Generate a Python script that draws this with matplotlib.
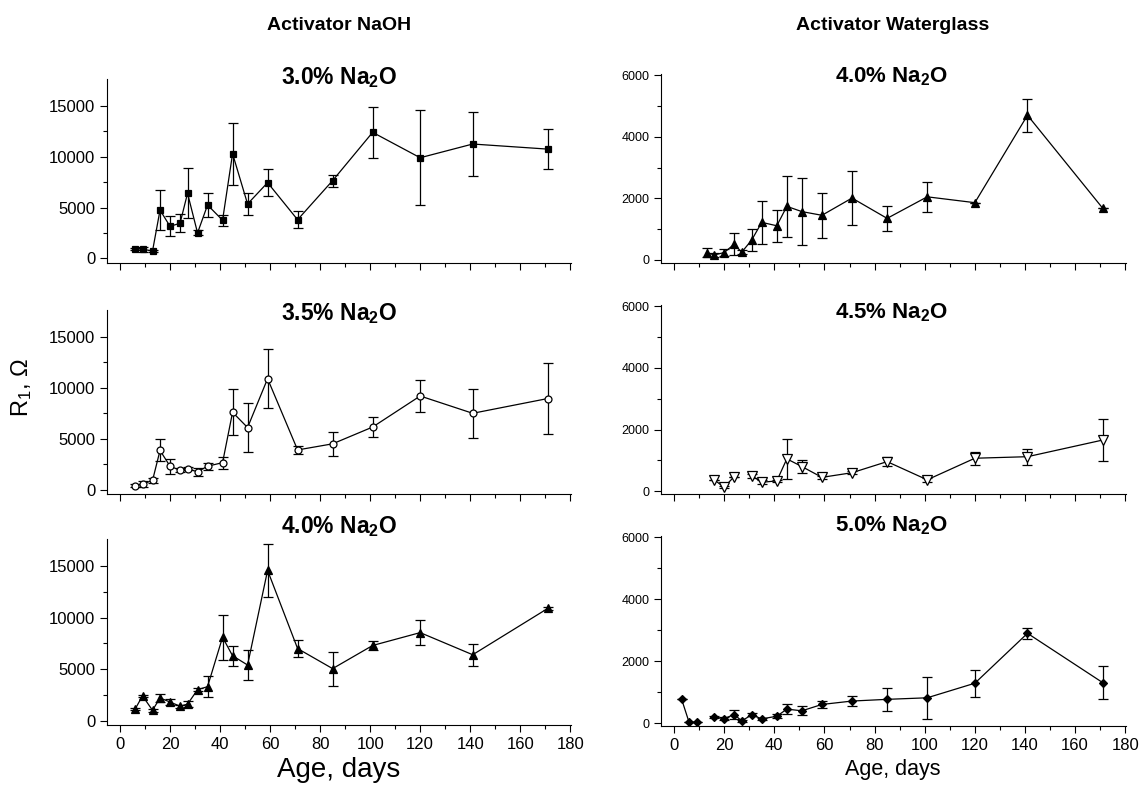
import matplotlib
matplotlib.use("Agg")
import matplotlib.pyplot as plt
import numpy as np

plt.rcParams['font.family'] = ['Liberation Sans', 'DejaVu Sans']

nan = np.nan

# ages, days
days_l = [6, 9, 13, 16, 20, 24, 27, 31, 35, 41, 45, 51, 59, 71, 85, 101, 120, 141, 171]
days_r = [3, 6, 9, 13, 16, 20, 24, 27, 31, 35, 41, 45, 51, 59, 71, 85, 101, 120, 141, 171]

# activator NaOH, R1 (Ohm) and error
r_naoh_30 = [950, 900, 720, 4750, 3150, 3450, 6400, 2500, 5250, 3750, 10300, 5350, 7450, 3800, 7650, 12400, 9900, 11250, 10750]
e_naoh_30 = [100, 250, 100, 2000, 1000, 900, 2450, 250, 1150, 550, 3050, 1100, 1350, 820, 600, 2500, 4700, 3150, 2000]
r_naoh_35 = [400, 550, 900, 3850, 2300, 1900, 2050, 1750, 2300, 2650, 7600, 6100, 10900, 3900, 4500, 6150, 9200, 7500, 8950]
e_naoh_35 = [150, 300, 200, 1080, 720, 200, 150, 400, 360, 590, 2250, 2450, 2900, 400, 1200, 1000, 1550, 2400, 3450]
r_naoh_40 = [1100, 2400, 1000, 2200, 1800, 1400, 1600, 3000, 3300, 8100, 6300, 5400, 14600, 7000, 5050, 7300, 8550, 6400, 10900]
e_naoh_40 = [100, 100, 150, 350, 250, 150, 300, 150, 1000, 2200, 950, 1450, 2600, 850, 1650, 400, 1200, 1050, 150]

# activator waterglass
r_wg_40 = [nan, nan, nan, 240, 160, 240, 510, 250, 650, 1220, 1110, 1740, 1570, 1450, 2010, 1350, 2050, 1860, 4700, 1680]
e_wg_40 = [0, 0, 0, 140, 80, 110, 360, 60, 370, 700, 520, 1000, 1100, 735, 890, 410, 490, 0, 540, 0]
r_wg_45 = [nan, nan, nan, nan, 370, 130, 475, nan, 505, 290, 335, 1050, 800, 450, 600, 960, 370, 1070, 1120, 1660]
e_wg_45 = [0, 0, 0, 0, 0, 30, 0, 0, 60, 60, 40, 650, 215, 40, 40, 150, 60, 215, 260, 690]
r_wg_50 = [780, 30, 30, nan, 195, 150, 280, 75, 270, 140, 225, 455, 400, 605, 715, 770, 820, 1290, 2900, 1310]
e_wg_50 = [0, 0, 0, 0, 40, 60, 150, 30, 50, 40, 70, 170, 140, 110, 170, 380, 680, 440, 180, 540]

titles_l = ['3.0%', '3.5%', '4.0%']
titles_r = ['4.0%', '4.5%', '5.0%']

W, H = 1146, 786
fig = plt.figure(figsize=(W / 100, H / 100), dpi=100)


def make_ax(x0, x1, top, bottom):
    return fig.add_axes([x0 / W, 1 - bottom / H, (x1 - x0) / W, (bottom - top) / H])


def style(ax, left, show_x):
    for s in ['top', 'right']:
        ax.spines[s].set_visible(False)
    ax.tick_params(which='both', direction='out', width=0.8)
    ax.tick_params(which='major', length=5)
    ax.tick_params(which='minor', length=3)
    ax.set_xlim(-5.2, 180.3)
    ax.set_xticks(range(0, 181, 20))
    ax.set_xticks(range(10, 180, 20), minor=True)
    if left:
        ax.set_ylim(-430, 17650)
        ax.set_yticks([0, 5000, 10000, 15000])
        ax.set_yticks([2500, 7500, 12500], minor=True)
        ax.tick_params(axis='y', labelsize=12)
    else:
        ax.set_ylim(-90, 6040)
        ax.set_yticks([0, 2000, 4000, 6000])
        ax.set_yticks([1000, 3000, 5000], minor=True)
        ax.tick_params(axis='y', labelsize=9)
    ax.tick_params(axis='x', labelsize=12)
    if not show_x:
        ax.tick_params(axis='x', labelbottom=False)


def draw(ax, x, y, e, marker, fc, ms):
    ax.errorbar(x, y, yerr=e, color='black', lw=0.9, elinewidth=0.9,
                capsize=3.5, capthick=0.9, marker=marker, ms=ms,
                mfc=fc, mec='black', mew=0.9)


left_rows = [(79, 262.7), (310, 494), (539, 725)]
right_rows = [(74, 262.7), (305, 494), (536, 726)]
title_y = [84, 320, 533]

series_l = [(r_naoh_30, e_naoh_30, 's', 'black', 5),
            (r_naoh_35, e_naoh_35, 'o', 'white', 5),
            (r_naoh_40, e_naoh_40, '^', 'black', 6)]
series_r = [(r_wg_40, e_wg_40, '^', 'black', 6),
            (r_wg_45, e_wg_45, 'v', 'white', 6.5),
            (r_wg_50, e_wg_50, 'D', 'black', 4.5)]

for i in range(3):
    ax = make_ax(107, 571, *left_rows[i])
    style(ax, True, i == 2)
    r, e, m, fc, ms = series_l[i]
    draw(ax, days_l, r, e, m, fc, ms)
    fig.text(339 / W, 1 - title_y[i] / H, titles_l[i] + r' Na$\mathregular{_2}$O',
             ha='center', va='baseline', fontsize=16.5, fontweight='bold')

    ax = make_ax(661, 1126, *right_rows[i])
    style(ax, False, i == 2)
    r, e, m, fc, ms = series_r[i]
    draw(ax, days_r, r, e, m, fc, ms)
    fig.text(892 / W, 1 - (title_y[i] - 2) / H, titles_r[i] + r' Na$\mathregular{_2}$O',
             ha='center', va='baseline', fontsize=16, fontweight='bold')

fig.text(339 / W, 1 - 25 / H, 'Activator NaOH', ha='center', va='center', fontsize=14, fontweight='bold')
fig.text(893 / W, 1 - 25 / H, 'Activator Waterglass', ha='center', va='center', fontsize=14, fontweight='bold')
fig.text(22 / W, 1 - 388 / H, r'R$\mathregular{_1}$, Ω', rotation=90, ha='center', va='center', fontsize=17)
fig.text(339 / W, 1 - 770 / H, 'Age, days', ha='center', va='center', fontsize=20)
fig.text(893 / W, 1 - 770 / H, 'Age, days', ha='center', va='center', fontsize=15.5)

fig.savefig('out.png', dpi=100)
